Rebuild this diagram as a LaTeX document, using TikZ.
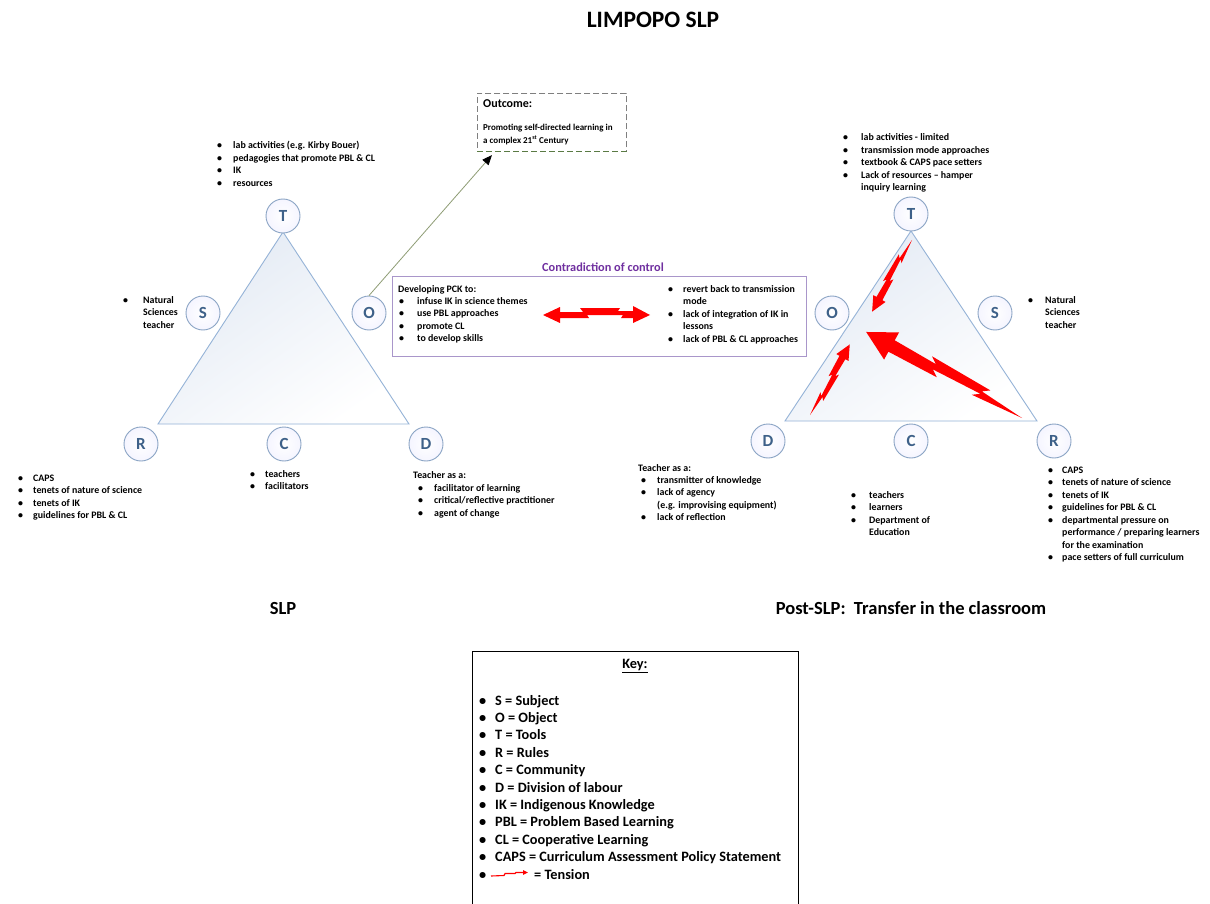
\documentclass[tikz,border=0pt]{standalone}
\usepackage{fontspec}
\setmainfont{Carlito}
\usetikzlibrary{arrows.meta,calc}
\definecolor{triedge}{HTML}{95B3D7}
\definecolor{trifill}{HTML}{E3EAF4}
\definecolor{circedge}{HTML}{8AA4C4}
\definecolor{letter}{HTML}{3E6189}
\definecolor{purp}{HTML}{7030A0}
\definecolor{purpedge}{HTML}{A996CA}
\definecolor{olivel}{HTML}{8E9C74}
\definecolor{boxgray}{HTML}{7F7F7F}
\definecolor{boxgreen}{HTML}{5A7A44}
\definecolor{tens}{HTML}{FF0000}
\newcommand{\bitems}[2]{\begin{tabular}[t]{@{}p{#1}@{}l@{}}#2\end{tabular}}
% single lightning arrow: x, y (tail), angle, L, s, j, h, hl
\newcommand{\boltarrow}[8]{%
\begin{scope}[shift={(#1,#2)}, rotate=#3]
\pgfmathsetmacro{\La}{#4}\pgfmathsetmacro{\Ls}{#5}\pgfmathsetmacro{\Lj}{#6}
\pgfmathsetmacro{\Lh}{#7}\pgfmathsetmacro{\Lhl}{#8}
\pgfmathsetmacro{\Pa}{0.27*\La}\pgfmathsetmacro{\Pb}{0.57*\La}
\pgfmathsetmacro{\Lb}{0.04*\La}
\pgfmathsetmacro{\Sa}{0.6*\Ls}\pgfmathsetmacro{\Sb}{0.85*\Ls}
\pgfmathsetmacro{\Hb}{\La-\Lhl}
\fill[tens] (0,0) -- (\Pa,\Sa) -- (\Pa-\Lb,\Sa+\Lj) -- (\Pb+\Lb,\Sb+\Lj) -- (\Pb,\Sb)
 -- (\Hb,\Ls) -- (\Hb,\Lh) -- (\La,0) -- (\Hb,-\Lh) -- (\Hb,-\Ls)
 -- (\Pb-\Lb,-\Sb) -- (\Pb,-\Sb+\Lj) -- (\Pa,-\Sa+\Lj) -- (\Pa+\Lb,-\Sa) -- cycle;
\end{scope}}
\tikzset{
 ring/.style={circle, draw=circedge, line width=0.9pt, minimum size=34pt, inner sep=0pt,
   inner color=white, outer color=blue!4!white,
   font=\fontsize{17}{17}\selectfont\bfseries, text=letter},
 tri/.style={draw=triedge, line width=0.9pt, top color=trifill, bottom color=white, shading angle=35},
 lst/.style={anchor=base west, inner sep=0pt, font=\fontsize{9.9}{12.5}\selectfont\bfseries},
 keyst/.style={anchor=base west, inner sep=0pt, font=\fontsize{14.3}{17.4}\selectfont\bfseries},
 capst/.style={inner sep=0pt, font=\fontsize{18.5}{19}\selectfont\bfseries},
}
\begin{document}
\begin{tikzpicture}[x=1pt,y=-1pt]
\useasboundingbox (0,0) rectangle (1210,904);
\fill[white] (0,0) rectangle (1210,904);

\node[inner sep=0pt, font=\fontsize{23.5}{24}\selectfont\bfseries] (title) at (653,20) {LIMPOPO SLP};

% ---------- left triangle ----------
\shade[tri] (283,232) -- (158,424) -- (409,424) -- cycle;
\node[ring] (lT) at (283,216) {T};
\node[ring] (lS) at (203,313) {S};
\node[ring] (lO) at (369,313) {O};
\node[ring] (lR) at (141,444) {R};
\node[ring] (lC) at (284,444) {C};
\node[ring] (lD) at (426,444) {D};

\node[lst] (lTt) at (217,149) {\bitems{16pt}{• & lab activities (e.g. Kirby Bouer)\\ • & pedagogies that promote PBL \& CL\\ • & IK\\ • & resources}};
\node[lst] (lSt) at (123,303) {\bitems{20pt}{• & Natural\\ & Sciences\\ & teacher}};
\node[lst] (lRt) at (18,481) {\bitems{15pt}{• & CAPS\\ • & tenets of nature of science\\ • & tenets of IK\\ • & guidelines for PBL \& CL}};
\node[lst] (lCt) at (250,477) {\bitems{15pt}{• & teachers\\ • & facilitators}};
\node[lst] (lDh) at (413,478) {Teacher as a:};
\node[lst] (lDt) at (418,491) {\bitems{16pt}{• & facilitator of learning\\ • & critical/reflective practitioner\\ • & agent of change}};

% ---------- outcome ----------
\node[draw=boxgray, dashed, dash pattern=on 6pt off 3pt, line width=0.8pt, anchor=north west,
      minimum width=149pt, minimum height=58pt, inner sep=0pt] (outc) at (477,93) {};
\draw[boxgreen, dash pattern=on 6pt off 3pt, line width=0.8pt] (outc.south west) -- (outc.south east);
\node[lst, font=\fontsize{12}{12}\selectfont\bfseries] (outh) at (483,108) {Outcome:};
\node[lst, font=\fontsize{9}{12.5}\selectfont\bfseries] (outt) at (483,131)
  {\begin{tabular}[t]{@{}l@{}}Promoting self-directed learning in\\ a complex 21\textsuperscript{st} Century\end{tabular}};
\coordinate (outtip) at (492,155);
\draw[olivel, line width=0.8pt, -{Triangle[length=10pt,width=8pt,color=black]}] (lO.north) -- (outtip);

% ---------- contradiction ----------
\node[inner sep=0pt, font=\fontsize{12.3}{13}\selectfont\bfseries, text=purp] (ctitle) at (603,267) {Contradiction of control};
\node[draw=purpedge, line width=1.2pt, anchor=north west, minimum width=414pt, minimum height=80pt, inner sep=0pt] (contra) at (392,276) {};
\node[lst] (cLh) at (398,292) {Developing PCK to:};
\node[lst] (cLt) at (399,304) {\bitems{18pt}{• & infuse IK in science themes\\ • & use PBL approaches\\ • & promote CL\\ • & to develop skills}};
\node[lst] (cRt) at (668,292) {\bitems{15pt}{• & revert back to transmission\\ & mode\\ • & lack of integration of IK in\\ & lessons\\ • & lack of PBL \& CL approaches}};
% double lightning arrow
\begin{scope}[shift={(543,315)}]
\fill[tens] (0,0) -- (17,-8) -- (17,-3) -- (40,-3) -- (37,-7) -- (77,-7) -- (75,-4) -- (90,-4) -- (90,-9) -- (107,0)
  -- (90,8) -- (90,3) -- (78,3) -- (80,0) -- (44,0) -- (46,3) -- (17,3) -- (17,8) -- cycle;
\end{scope}

% ---------- right triangle ----------
\shade[tri] (911,231) -- (785,421) -- (1037,421) -- cycle;
\node[ring] (rT) at (911,214) {T};
\node[ring] (rO) at (832,313) {O};
\node[ring] (rS) at (995,313) {S};
\node[ring] (rD) at (768,441) {D};
\node[ring] (rC) at (911,441) {C};
\node[ring] (rR) at (1054,441) {R};

\boltarrow{1022}{418}{151.1}{178}{6.5}{5}{15.5}{29}
\boltarrow{912}{240}{240.9}{82}{3.4}{2.5}{7}{15}
\boltarrow{810}{415}{60.6}{81}{3.4}{2.5}{7}{15}

\node[lst] (rTt) at (843,141) {\bitems{18pt}{• & lab activities - limited\\ • & transmission mode approaches\\ • & textbook \& CAPS pace setters\\ • & Lack of resources -- hamper\\ & inquiry learning}};
\node[lst] (rSt) at (1028,303) {\bitems{17pt}{• & Natural\\ & Sciences\\ & teacher}};
\node[lst] (rDh) at (638,471) {Teacher as a:};
\node[lst] (rDt) at (641,483) {\bitems{16pt}{• & transmitter of knowledge\\ • & lack of agency\\ & (e.g. improvising equipment)\\ • & lack of reflection}};
\node[lst] (rCt) at (851,498) {\bitems{18pt}{• & teachers\\ • & learners\\ • & Department of\\ & Education}};
\node[lst] (rRt) at (1048,473) {\bitems{14pt}{• & CAPS\\ • & tenets of nature of science\\ • & tenets of IK\\ • & guidelines for PBL \& CL\\ • & departmental pressure on\\ & performance / preparing learners\\ & for the examination\\ • & pace setters of full curriculum}};

% ---------- captions ----------
\node[capst] (capL) at (283,608) {SLP};
\node[capst] (capR) at (911,608) {Post-SLP:\ \ Transfer in the classroom};

% ---------- key ----------
\node[draw=black, line width=1.3pt, anchor=north west, minimum width=326pt, minimum height=262pt, inner sep=0pt] (key) at (472,651) {};
\node[inner sep=0pt, font=\fontsize{14.3}{15}\selectfont\bfseries] (keyh) at (635,666) {\underline{Key:}};
\node[keyst] (keyt) at (479,705) {\bitems{16pt}{• & S = Subject\\ • & O = Object\\ • & T = Tools\\ • & R = Rules\\ • & C = Community\\ • & D = Division of labour\\ • & IK = Indigenous Knowledge\\ • & PBL = Problem Based Learning\\ • & CL = Cooperative Learning\\ • & CAPS = Curriculum Assessment Policy Statement\\ • & \hspace*{39pt}= Tension}};
\draw[tens, line width=1.1pt, -{Triangle[length=5pt,width=4.5pt]}] (491,876) -- (504,875.5) -- (505,873.5) -- (515,873.5) -- (516,872.5) -- (528,872.5);
\end{tikzpicture}
\end{document}
